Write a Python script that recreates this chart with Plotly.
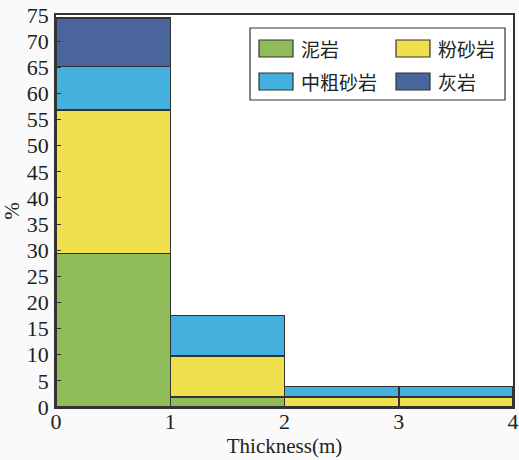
import plotly.graph_objects as go

# Thickness bins (m) and stacked percentages per lithology
bin_left = [0, 1, 2, 3]
bin_width = [1, 1, 1, 1]
mudstone = [29.4, 1.9, 0.0, 0.0]        # 泥岩
siltstone = [27.4, 7.9, 1.9, 1.9]       # 粉砂岩
coarse_sand = [8.3, 7.7, 2.0, 2.0]      # 中粗砂岩
limestone = [9.3, 0.0, 0.0, 0.0]        # 灰岩

series_names = ["泥岩", "粉砂岩", "中粗砂岩", "灰岩"]
series_values = [mudstone, siltstone, coarse_sand, limestone]
series_colors = ["#8fbc59", "#f0e04e", "#44b0de", "#4a659e"]

x_ticks = [0, 1, 2, 3, 4]
y_ticks = list(range(0, 80, 5))

edge = "#333333"
serif = "Liberation Serif"
cjk = "Noto Sans CJK SC"

ML, MR, MT, MB = 56, 6, 15, 53
FIG_W, FIG_H = 519, 460

fig = go.Figure()
centers = [l + w / 2 for l, w in zip(bin_left, bin_width)]
for name, vals, col in zip(series_names, series_values, series_colors):
    fig.add_trace(go.Bar(
        x=centers, y=vals, width=bin_width, name=name,
        marker=dict(color=col, line=dict(color=edge, width=1.5)),
        showlegend=False,
    ))

fig.update_layout(
    barmode="stack",
    width=FIG_W, height=FIG_H,
    margin=dict(l=ML, r=MR, t=MT, b=MB),
    paper_bgcolor="#fafafa",
    plot_bgcolor="#ffffff",
    font=dict(family=serif, size=22, color="#222222"),
    xaxis=dict(
        range=[0, 4], tickvals=x_ticks, ticks="", automargin=False,
        showline=True, linecolor=edge, linewidth=1.5,
        mirror=True, showgrid=False, zeroline=False,
        title=dict(text="Thickness(m)", standoff=5, font=dict(family=serif, size=21)),
        tickfont=dict(family=serif, size=22), ticklabelstandoff=-6,
        ticklabeloverflow="allow",
    ),
    yaxis=dict(
        range=[0, 75], tickvals=y_ticks, ticks="inside", ticklen=5, automargin=False,
        tickcolor=edge, showline=True, linecolor=edge, linewidth=1.5,
        mirror=True, showgrid=False, zeroline=False,
        title=dict(text="%", standoff=4, font=dict(family=serif, size=21)),
        tickfont=dict(family=serif, size=22), ticklabelstandoff=1,
        ticklabeloverflow="allow",
    ),
)

# Legend drawn as a boxed 2x2 grid of swatches and labels
W = float(FIG_W - ML - MR)
H = float(FIG_H - MT - MB)
def px(x):
    return (x - ML) / W
def py(y):
    return (FIG_H - MB - y) / H

fig.add_shape(type="rect", xref="paper", yref="paper",
              x0=px(250), x1=px(505), y0=py(100), y1=py(28),
              line=dict(color=edge, width=1.2), fillcolor="#ffffff", layer="above")

legend_pos = [(259, 40), (396, 40), (259, 73), (396, 73)]
for (lx, ly), i in zip(legend_pos, range(4)):
    fig.add_shape(type="rect", xref="paper", yref="paper",
                  x0=px(lx), x1=px(lx + 34), y0=py(ly + 17), y1=py(ly),
                  line=dict(color=edge, width=1.2), fillcolor=series_colors[i],
                  layer="above")
    fig.add_annotation(xref="paper", yref="paper", x=px(lx + 40), y=py(ly + 8.5),
                       text=series_names[i], showarrow=False, xanchor="left",
                       yanchor="middle", font=dict(family=cjk, size=19, color="#222222"))

fig.write_html("out.html")
